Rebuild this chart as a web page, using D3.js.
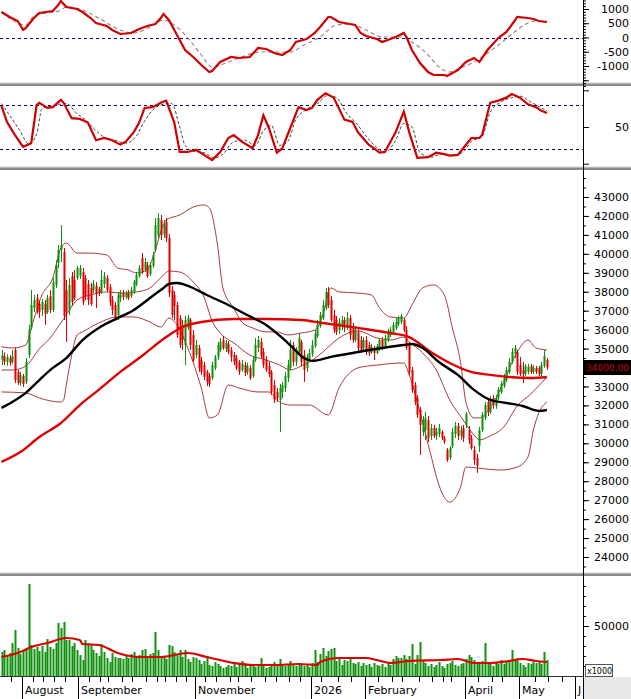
<!DOCTYPE html>
<html>
<head>
<meta charset="utf-8">
<script src="https://cdn.jsdelivr.net/npm/d3@7"></script>
<style>
  body { margin: 0; background: #fff; }
  svg { display: block; }
</style>
</head>
<body>
<svg id="chart" width="631" height="699"></svg>
<script>
// ---- data ----
// candles, one per trading day: [open, close, high, low]
var bars = [
  [34400,34650,34930,34130],[34600,34300,34800,34130],[34300,34550,34700,34100],[34500,34250,34650,34100],[34300,34600,34930,34200],
  [34930,33340,35050,33180],[33770,33180,33870,33080],[33180,33600,33770,33020],[33550,33130,33660,32970],[33240,34300,34500,33130],
  [34660,35980,36250,34500],[36100,37300,38090,35980],[37140,37560,37830,36930],[37670,37040,37880,36830],[37350,36930,37560,36610],
  [37040,37460,37620,36720],[37350,36830,37560,36250],[36930,37670,37830,36830],[37770,37040,38090,36880],[37040,38510,38730,36930],
  [38360,39410,39680,38200],[39520,40200,40470,39250],[40200,40470,41520,39570],[40100,36720,40310,36510],[38090,36930,38620,35350],
  [37040,38360,38730,36770],[38830,37460,39040,37250],[38620,37670,39150,37560],[38730,39250,39360,38620],[38830,39250,39410,38670],
  [39040,37460,39250,37300],[38730,37780,38880,37560],[38410,37560,38620,37300],[38200,37350,38460,37250],[38090,38410,38620,37930],
  [38300,37880,38510,37140],[38150,37930,38250,37780],[37990,38620,39150,37880],[38410,38830,39040,38200],[38730,38090,38880,37990],
  [38250,37460,38410,37250],[37560,37040,37780,36770],[37300,36610,37460,36510],[36770,37830,37990,36510],[37670,37930,38090,37460],
  [37930,37720,38090,37560],[37720,37930,38040,37620],[37930,37670,38090,37560],[37780,38090,38250,37670],[37990,38510,38620,37880],
  [38410,38880,39040,38300],[38830,39250,39410,38730],[39780,39040,40040,38940],[39150,39570,39780,39040],[39410,38830,39570,38730],
  [38940,39410,39570,38830],[39360,39940,40100,39250],[40200,41520,41890,40100],[40990,41890,42150,40840],[41790,40990,42050,40730],
  [41050,41520,41790,40840],[41680,40840,41890,40620],[40840,37930,41050,37720],[38090,36770,38300,36610],[37830,37250,38040,36510],
  [37300,35720,37460,35560],[36610,35190,36770,35030],[36250,35450,36510,34930],[35190,36510,36720,34130],[36100,36610,36770,35980],
  [36510,35190,36610,34930],[35720,34400,35980,34300],[34660,35190,35450,34500],[35030,33980,35190,33770],[34400,33770,34560,33610],
  [34130,33500,34300,33340],[33770,33240,33870,33020],[33550,33130,33710,32970],[33450,34130,34300,33340],[33980,34560,34660,33870],
  [34560,35190,35350,34400],[34930,35350,35560,34820],[35450,35030,35660,34930],[34980,35300,35450,34820],[35240,34820,35400,34710],
  [34930,34560,35080,34300],[34660,34300,34820,34130],[34500,33980,34660,33870],[34300,33770,34400,33610],[33870,34190,34400,33770],
  [34130,33710,34300,33550],[33770,34080,34250,33610],[33980,33450,34130,33340],[33550,34400,34560,33450],[34400,35190,35560,34300],
  [35030,35450,35660,34820],[35350,34610,35560,34500],[34820,34130,35030,33980],[34400,33870,34610,33770],[34080,33660,34300,33500],
  [33770,32710,33870,32550],[33080,32290,33340,32130],[32710,32390,32920,32180],[32290,32920,33130,30600],[32710,33080,33240,32390],
  [32920,33550,33770,32710],[33450,34130,34400,33240],[33980,34930,35450,33870],[35190,34300,35350,34080],[34300,34930,35080,34080],
  [34820,35560,35770,34610],[35350,34300,35450,34080],[34660,33870,34930,33240],[33980,34560,34710,33770],[34450,34770,34980,34350],
  [34720,35190,35450,34560],[35140,35770,35980,35030],[35660,36250,36510,35560],[36190,36770,36930,36100],[36610,37300,37560,36510],
  [37140,37990,38200,37040],[37990,37300,38250,37140],[37560,36510,37780,36400],[36770,35980,37040,35820],[36510,35870,36720,35720],
  [35980,36400,36610,35770],[36190,36510,36720,35980],[36510,36100,36670,35870],[36100,36610,36930,35980],[36610,35720,36770,35450],
  [36140,35450,36350,35300],[35450,35980,36190,35350],[35870,35030,36090,34820],[35450,34930,35660,34770],[35030,35450,35610,34930],
  [35450,34820,35660,34660],[35190,34770,35350,34610],[34820,35080,35240,34710],[35030,34770,35140,34400],[34770,35140,35240,34710],
  [35030,35450,35560,34880],[35450,35030,35610,34930],[35140,35560,35720,35030],[35450,35870,36040,35350],[35720,35980,36140,35610],
  [35870,36250,36400,35770],[36090,36400,36610,35980],[36300,36610,36720,36190],[36400,36720,36830,36300],[36510,35980,36610,35870],
  [35980,35030,36190,34930],[35190,33770,35350,33610],[33870,32820,34030,32660],[33080,32180,33240,32020],[32390,31500,32550,31340],
  [31760,30970,31920,29390],[30600,31230,31440,30390],[30700,31340,31650,30180],[31230,30280,31440,30070],[30390,30810,31020,30180],
  [30810,30390,30970,30280],[30390,30600,30810,30180],[30490,30810,31020,30330],[30600,30280,30700,30180],[30280,30070,30390,29960],
  [29650,29120,29750,29020],[29230,29750,29860,29120],[29860,30600,30810,29750],[30490,30920,31130,30280],[30920,30390,31080,30180],
  [30390,30700,30920,30180],[30810,30280,30970,30070],[30970,31550,31650,30810],[30700,30180,30920,29960],[30280,29750,30440,29650],
  [29650,29120,29860,28860],[29230,28810,29440,28440],[29860,30700,30860,29540],[30700,31500,31650,30600],[31340,32020,32180,31230],
  [32180,31650,32390,31440],[31650,32290,32500,31550],[32390,32020,32550,31820],[31970,32390,32550,31820],[32390,32820,32970,32290],
  [32710,33130,33290,32600],[33020,33450,33660,32920],[33340,33870,34030,33240],[33770,34300,34500,33660],[34300,34820,35030,34190],
  [34720,35030,35190,34500],[34820,33770,34930,33610],[34130,33660,34560,33550],[33870,33660,34300,33180],[33660,34080,34190,33550],
  [33770,34030,34190,33660],[34080,33770,34190,33660],[33770,33980,34130,33660],[33980,33770,34080,33660],[33980,33660,34080,33550],
  [33660,34130,34300,33550],[34080,34610,34930,33980],[34400,34000,34500,33870]
];

// volume, x1000 shares
var volume = [
  24000,26000,21000,23000,33000,46000,28000,22000,25000,27000,
  92000,31000,27000,29000,25000,30000,24000,37000,29000,27000,
  33000,53000,48000,54000,36000,36000,30000,33000,26000,21000,
  16000,36000,33000,31000,26000,23000,20000,32000,24000,18000,
  14000,23000,19000,18000,18000,17000,21000,18000,22000,24000,
  19000,21000,26000,27000,19000,22000,23000,44000,26000,18000,
  20000,17000,31000,30000,24000,21000,26000,19000,26000,17000,
  14000,19000,18000,16000,12000,15000,20000,11000,10000,14000,
  12000,10000,8000,9000,11000,10000,12000,9000,13000,15000,
  11000,8000,10000,12000,9000,10000,18000,11000,8000,9000,
  12000,14000,10000,17000,11000,10000,12000,15000,11000,10000,
  13000,12000,10000,11000,9000,13000,26000,14000,22000,28000,
  20000,25000,27000,28000,15000,18000,11000,16000,15000,19000,
  13000,12000,14000,10000,13000,11000,12000,9000,13000,11000,
  10000,12000,9000,14000,11000,17000,20000,18000,18000,21000,
  17000,20000,32000,12000,21000,34000,16000,13000,10000,12000,
  9000,11000,14000,10000,8000,12000,13000,15000,11000,10000,
  12000,13000,17000,21000,19000,16000,14000,12000,15000,33000,
  13000,12000,10000,14000,12000,16000,12000,14000,16000,26000,
  15000,18000,13000,11000,9000,13000,12000,14000,13000,15000,
  12000,24000,16000
];

// indicator lines, sampled as [bar index, value]
var ma50 = [[0,31870],[4,32180],[9,32660],[14,33340],[19,33980],[24,34500],[30,35450],[36,36090],[43,36610],[49,37040],[55,37670],[60,38200],[62,38410],[65,38460],[70,38250],[76,37830],[84,37300],[91,36770],[98,36250],[104,35560],[108,35030],[112,34500],[115,34350],[122,34560],[132,34820],[141,35030],[149,35190],[152,35240],[156,35030],[162,34290],[169,33610],[175,32820],[181,32290],[187,32130],[193,31970],[199,31710],[202,31760]];
var ma200 = [[0,29020],[7,29540],[14,30330],[22,31070],[29,32020],[36,32820],[44,33770],[51,34500],[61,35610],[67,36140],[74,36400],[86,36560],[98,36560],[111,36510],[119,36350],[132,36090],[144,35820],[151,35610],[159,34820],[166,34240],[174,33770],[181,33610],[188,33500],[196,33450],[202,33500]];
var bbUpper = [[0,35100],[4,35030],[9,35190],[11,36090],[15,37830],[19,38730],[22,40310],[24,40570],[28,40040],[32,40040],[39,39940],[43,39250],[47,39150],[50,38990],[54,39150],[56,39780],[61,41790],[66,42050],[71,42470],[75,42580],[77,42420],[80,40470],[82,38200],[86,37140],[89,36400],[93,36090],[98,35880],[102,35880],[106,35720],[111,35820],[116,35980],[119,36770],[122,38200],[125,37990],[132,37930],[137,37830],[140,37140],[144,36670],[149,36610],[152,37300],[156,38200],[160,38360],[164,37830],[167,36090],[170,34290],[172,32180],[175,31340],[177,31340],[181,31870],[186,33240],[191,34820],[195,35450],[198,35030],[202,34930]];
var bbMiddle = [[0,33870],[4,33870],[9,34080],[14,34980],[18,35560],[23,36560],[28,37560],[33,37830],[39,37990],[45,37930],[50,37990],[55,38200],[60,38880],[62,39090],[66,39040],[71,38510],[75,37720],[78,36460],[81,35820],[86,35300],[92,34660],[98,34400],[103,34130],[107,33870],[111,34080],[114,34290],[119,34820],[125,35560],[132,35930],[139,35560],[144,35450],[149,35610],[151,35350],[156,34770],[161,33870],[166,32290],[171,31230],[175,30440],[177,30180],[181,30390],[186,30860],[191,31970],[196,32600],[202,33500]];
var bbLower = [[0,32710],[9,32660],[14,32390],[22,32180],[23,32290],[24,33080],[26,34660],[28,35720],[30,35880],[36,36350],[43,36670],[49,36670],[55,36400],[59,36140],[62,36610],[65,36250],[69,35030],[74,32920],[77,31340],[80,31500],[84,33080],[88,32920],[95,32710],[99,32710],[103,32180],[107,32020],[114,32020],[121,31500],[125,32920],[132,33980],[139,34130],[149,34240],[151,33610],[155,31650],[159,29390],[162,27800],[166,26900],[170,27690],[172,28750],[176,28700],[185,28590],[191,28750],[195,29280],[197,30700],[199,31600],[202,32180]];
var volMa = [[0,19000],[7,24000],[11,29000],[17,33000],[24,38000],[29,36000],[30,32000],[36,31000],[43,23000],[51,19000],[59,19000],[69,23000],[76,19000],[86,13000],[93,11000],[101,11000],[110,12000],[117,11000],[118,14000],[125,18000],[135,18000],[139,16000],[144,13000],[151,15000],[163,16000],[169,17000],[175,13000],[181,13000],[188,15000],[193,17000],[198,15000],[202,14000]];
var macd = [[0,895],[3,719],[6,579],[8,263],[9,333],[12,684],[14,860],[19,930],[21,1140],[22,1281],[24,1070],[28,1000],[30,895],[33,684],[35,509],[39,404],[41,263],[44,123],[48,158],[51,298],[54,404],[57,474],[59,684],[60,825],[62,614],[64,263],[66,-88],[68,-439],[71,-684],[74,-965],[77,-1211],[78,-1175],[81,-860],[85,-684],[88,-719],[92,-684],[95,-368],[98,-404],[101,-544],[104,-614],[107,-439],[109,-158],[113,-53],[116,158],[118,368],[121,719],[122,719],[125,544],[129,474],[131,439],[133,158],[135,53],[139,-53],[141,-158],[144,-53],[146,18],[149,158],[150,18],[152,-439],[155,-895],[158,-1211],[160,-1316],[164,-1316],[165,-1351],[169,-1140],[172,-860],[175,-719],[177,-860],[180,-439],[184,-18],[187,193],[190,579],[191,719],[195,684],[197,649],[199,579],[202,544]];
var macdSignal = [[0,895],[9,439],[12,754],[22,965],[24,1070],[30,965],[36,684],[44,263],[49,158],[55,368],[60,614],[64,439],[69,-18],[74,-614],[78,-1035],[84,-860],[89,-684],[96,-509],[102,-509],[107,-509],[112,-263],[118,18],[124,439],[129,474],[135,263],[141,18],[148,18],[152,-158],[158,-614],[162,-1035],[166,-1211],[170,-1070],[175,-860],[180,-544],[185,-193],[190,193],[195,509],[198,579],[202,544]];
var stochK = [[0,79],[2,57],[5,39],[8,23],[11,28],[13,80],[14,83],[17,76],[19,77],[22,87],[23,83],[26,62],[29,61],[32,56],[35,32],[38,35],[41,32],[44,26],[46,30],[49,43],[51,56],[53,76],[56,77],[59,83],[61,86],[64,56],[66,16],[69,16],[72,19],[75,12],[78,5],[81,16],[84,35],[86,39],[89,30],[93,21],[95,39],[97,66],[99,49],[102,15],[104,21],[107,49],[110,77],[113,73],[115,76],[117,87],[120,96],[123,90],[127,60],[130,57],[132,43],[136,26],[138,21],[140,15],[142,16],[146,43],[149,71],[151,43],[154,8],[158,9],[161,15],[164,13],[166,11],[169,12],[171,21],[174,35],[177,35],[178,39],[181,83],[184,86],[187,90],[189,95],[192,90],[195,81],[198,77],[200,72],[202,69]];
var stochD = [[0,82],[3,66],[7,44],[10,27],[13,40],[15,75],[19,79],[24,82],[28,68],[31,60],[35,45],[38,36],[42,32],[46,28],[50,38],[53,58],[56,73],[60,81],[63,82],[66,50],[68,25],[71,17],[75,15],[79,8],[82,13],[86,30],[90,32],[94,25],[97,45],[100,52],[103,25],[106,30],[109,60],[113,74],[117,82],[121,93],[124,90],[128,68],[131,57],[135,38],[139,22],[142,16],[146,32],[149,55],[152,50],[155,15],[159,9],[163,13],[167,11],[171,16],[174,30],[178,37],[181,70],[185,84],[189,90],[192,92],[196,84],[200,76],[202,72]];

// date axis
var monthLabels = ["August", "September", "November", "2026", "February", "April", "May", "J"];
var monthTickIdx = [8, 29, 72, 115, 135, 172, 192, 213];
var weekTickIdx = [4, 12, 16, 20, 24, 33, 37, 40, 45, 49, 54, 58, 61, 65, 69, 76, 80, 85, 88, 93, 98, 102, 107, 111, 119, 125, 130, 140, 145, 149, 155, 160, 164, 167, 177, 182, 186, 198, 203, 208];

var lastPrice = "34000.00";
var lastValue = 34000;

// ---- layout ----
var axisX = 583;
var font = '"DejaVu Sans", Verdana, sans-serif';
var RED = "#e00000", GREEN = "#0a920a", BAND = "#a83a3a", NAVY = "#000080";

var svg = d3.select("#chart").attr("font-family", font);

var x = d3.scaleLinear().domain([0, 202]).range([1.5, 546.9]);
var yMacd = d3.scaleLinear().domain([-1000, 1000]).range([66, 9]);
var yStoch = d3.scaleLinear().domain([0, 100]).range([163.7, 90.3]);
var yPrice = d3.scaleLinear().domain([24000, 43000]).range([557, 197]);
var yVol = d3.scaleLinear().domain([0, 100000]).range([676, 576]);

svg.append("rect").attr("width", 631).attr("height", 699).attr("fill", "#fff");

// clip areas for each panel
var defs = svg.append("defs");
function clip(id, y0, y1) {
  defs.append("clipPath").attr("id", id).append("rect")
    .attr("x", 0).attr("y", y0).attr("width", axisX).attr("height", y1 - y0);
  return svg.append("g").attr("clip-path", "url(#" + id + ")");
}
var gMacd = clip("cMacd", 0, 83.5);
var gStoch = clip("cStoch", 86, 167.5);
var gMain = clip("cMain", 170, 573.5);
var gVol = clip("cVol", 576, 676.5);

function line(scale, curve) {
  return d3.line().x(d => x(d[0])).y(d => scale(d[1])).curve(curve || d3.curveMonotoneX);
}
function dashedLevel(g, yv) {
  g.append("line").attr("x1", 0).attr("x2", axisX).attr("y1", yv).attr("y2", yv)
    .attr("stroke", NAVY).attr("stroke-width", 1).attr("stroke-dasharray", "3,3");
}

// ---- MACD panel ----
dashedLevel(gMacd, Math.round(yMacd(0)) + 0.5);
gMacd.append("path").datum(macdSignal).attr("d", line(yMacd))
  .attr("fill", "none").attr("stroke", "#a07a7a").attr("stroke-width", 1.1).attr("stroke-dasharray", "4,3");
gMacd.append("path").datum(macd).attr("d", line(yMacd, d3.curveLinear))
  .attr("fill", "none").attr("stroke", "#d00000").attr("stroke-width", 2.2);

// ---- Stochastic panel ----
dashedLevel(gStoch, Math.round(yStoch(80)) + 0.5);
dashedLevel(gStoch, Math.round(yStoch(20)) + 0.5);
gStoch.append("path").datum(stochD).attr("d", line(yStoch))
  .attr("fill", "none").attr("stroke", "#444").attr("stroke-width", 1).attr("stroke-dasharray", "3,2");
gStoch.append("path").datum(stochK).attr("d", line(yStoch, d3.curveLinear))
  .attr("fill", "none").attr("stroke", "#d00000").attr("stroke-width", 2.2);

// ---- price panel ----
[bbUpper, bbMiddle, bbLower].forEach(band => {
  gMain.append("path").datum(band).attr("d", line(yPrice))
    .attr("fill", "none").attr("stroke", BAND).attr("stroke-width", 1);
});

var candle = gMain.selectAll("g.candle").data(bars).join("g").attr("class", "candle");
candle.append("line")
  .attr("x1", (d, i) => Math.round(x(i)) + 0.5).attr("x2", (d, i) => Math.round(x(i)) + 0.5)
  .attr("y1", d => yPrice(d[2])).attr("y2", d => yPrice(d[3]))
  .attr("stroke", d => d[1] >= d[0] ? GREEN : RED).attr("stroke-width", 1);
candle.append("rect")
  .attr("x", (d, i) => Math.round(x(i)) - 0.5)
  .attr("width", 2)
  .attr("y", d => yPrice(Math.max(d[0], d[1])))
  .attr("height", d => Math.max(1, Math.abs(yPrice(d[0]) - yPrice(d[1]))))
  .attr("fill", d => d[1] >= d[0] ? GREEN : RED);

gMain.append("path").datum(ma200).attr("d", line(yPrice))
  .attr("fill", "none").attr("stroke", RED).attr("stroke-width", 2.4);
gMain.append("path").datum(ma50).attr("d", line(yPrice))
  .attr("fill", "none").attr("stroke", "#000").attr("stroke-width", 2.4);

// ---- volume panel ----
gVol.selectAll("rect.vol").data(volume).join("rect").attr("class", "vol")
  .attr("x", (d, i) => Math.round(x(i)) - 0.5)
  .attr("width", 2)
  .attr("y", d => yVol(d))
  .attr("height", d => yVol(0) - yVol(d))
  .attr("fill", "#119211");
gVol.append("path").datum(volMa).attr("d", line(yVol))
  .attr("fill", "none").attr("stroke", "#dd0000").attr("stroke-width", 2.2);

// ---- panel separators ----
[83.5, 167.5, 573.5].forEach(yv => {
  svg.append("rect").attr("x", 0).attr("y", yv - 1).attr("width", 631).attr("height", 1).attr("fill", "#d0d0d0");
  svg.append("rect").attr("x", 0).attr("y", yv).attr("width", 631).attr("height", 2.5).attr("fill", "#8a8a8a");
});

// ---- right axes ----
function rightAxis(scale, majors, minors, labelled) {
  var gMin = svg.append("g").attr("transform", "translate(" + axisX + ",0)")
    .call(d3.axisRight(scale).tickValues(minors).tickSize(3).tickFormat(""));
  gMin.select(".domain").remove();
  var gMaj = svg.append("g").attr("transform", "translate(" + axisX + ",0)")
    .call(d3.axisRight(scale).tickValues(majors).tickSize(6)
      .tickFormat(d => labelled.indexOf(d) >= 0 ? String(d) : ""));
  gMaj.select(".domain").remove();
  gMaj.attr("font-family", font).attr("font-size", 11);
  gMaj.selectAll("text").attr("x", 46).attr("text-anchor", "end").attr("fill", "#000");
}
rightAxis(yMacd, [-1500, -1000, -500, 0, 500, 1000], d3.range(-1700, 1400, 100), [-1000, -500, 0, 500, 1000]);
rightAxis(yStoch, [0, 50, 100], [], [50]);
var priceMajors = d3.range(24000, 44000, 1000);
// the last-price tag sits on top of the 34000 label, so that label is left out
rightAxis(yPrice, priceMajors, d3.range(23500, 44500, 500), priceMajors.filter(v => v !== lastValue));
rightAxis(yVol, [50000], d3.range(10000, 100000, 10000), [50000]);

// last price tag
var tagY = yPrice(lastValue);
svg.append("rect").attr("x", 584).attr("y", tagY - 7.5).attr("width", 47).attr("height", 15).attr("fill", "#000");
svg.append("text").attr("x", 586).attr("y", tagY + 3.5).attr("font-size", 9)
  .attr("fill", "#d40000").text(lastPrice);

// ---- date axis ----
svg.append("rect").attr("x", axisX).attr("y", 677).attr("width", 631 - axisX).attr("height", 22).attr("fill", "#e8e8e8");
svg.append("line").attr("x1", 0).attr("x2", axisX).attr("y1", 676.5).attr("y2", 676.5).attr("stroke", "#333");
var tickX = i => Math.round(x(i) - 1.35) + 0.5;
svg.selectAll("line.wk").data(weekTickIdx).join("line").attr("class", "wk")
  .attr("x1", tickX).attr("x2", tickX).attr("y1", 677).attr("y2", 682).attr("stroke", "#000");
svg.selectAll("line.mo").data(monthTickIdx).join("line").attr("class", "mo")
  .attr("x1", tickX).attr("x2", tickX).attr("y1", 677).attr("y2", 699).attr("stroke", "#000");
svg.selectAll("text.mo").data(monthLabels).join("text").attr("class", "mo")
  .attr("x", (d, k) => tickX(monthTickIdx[k]) + 2.5).attr("y", 694)
  .attr("font-size", 11).attr("fill", "#000").text(d => d);

// x1000 unit box
svg.append("rect").attr("x", 585.5).attr("y", 664.5).attr("width", 27).attr("height", 12)
  .attr("fill", "#fff").attr("stroke", "#555");
svg.append("text").attr("x", 587).attr("y", 674).attr("font-size", 8).attr("fill", "#000").text("x1000");

// axis spine
svg.append("line").attr("x1", axisX + 0.5).attr("x2", axisX + 0.5).attr("y1", 0).attr("y2", 699).attr("stroke", "#000");
</script>
</body>
</html>
